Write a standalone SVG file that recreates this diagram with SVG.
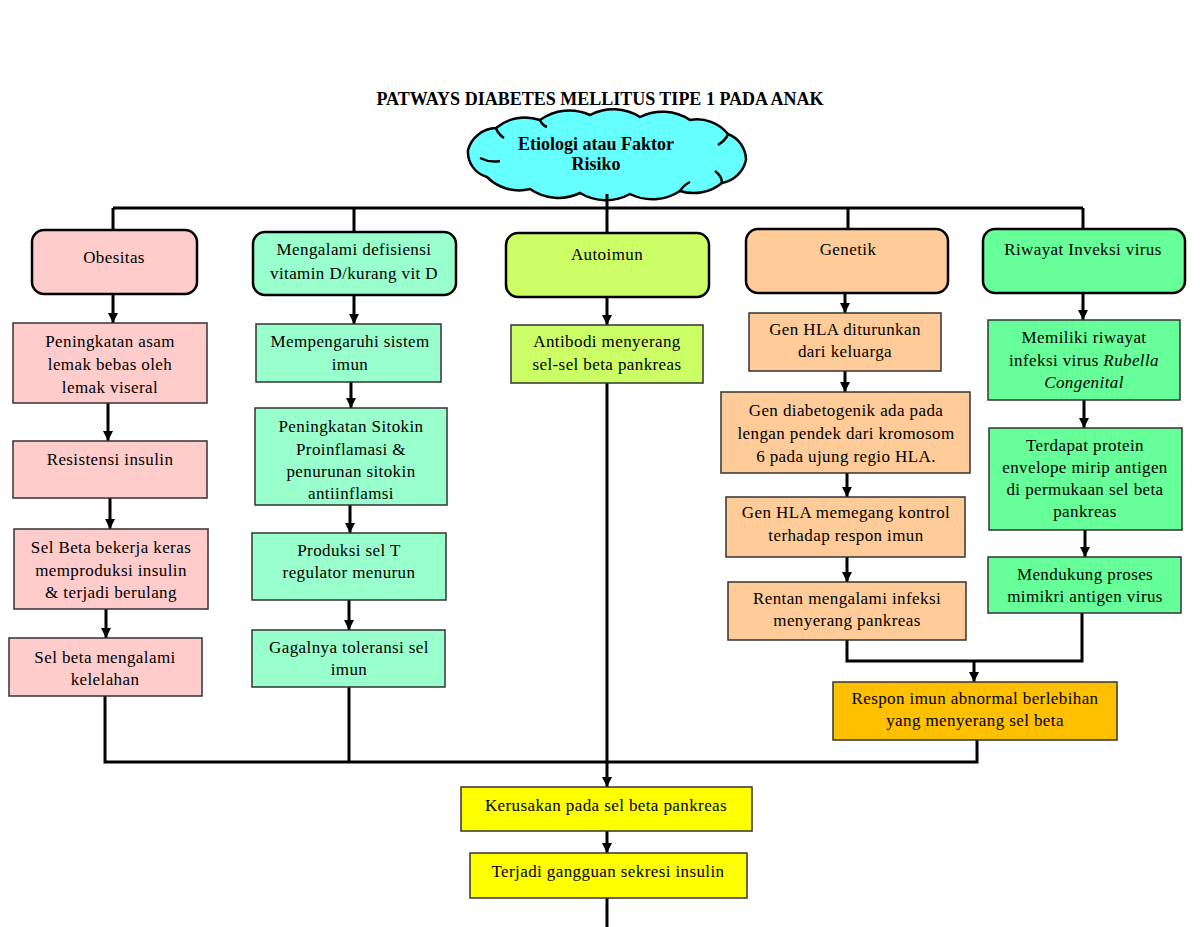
<svg xmlns="http://www.w3.org/2000/svg" width="1200" height="927" viewBox="0 0 1200 927">
<style>
text{font-family:"Liberation Serif","Times New Roman",serif;font-size:17px;letter-spacing:0.4px;fill:#000;text-anchor:middle}
.t{font-weight:bold;font-size:18px;letter-spacing:0}
.rb{stroke:#000;stroke-width:2.5}
.bx{stroke:#333;stroke-width:1.5}
.ln{fill:none;stroke:#000;stroke-width:3}
.pink{fill:#FFCCCC}.mint{fill:#99FFCC}.lime{fill:#CCFF66}.peach{fill:#FFCC99}.grn{fill:#66FF99}.org{fill:#FFC000}.yel{fill:#FFFF00}
</style>
<defs>
<marker id="ah" viewBox="0 0 10 10" refX="10" refY="5" markerWidth="10" markerHeight="10" markerUnits="userSpaceOnUse" orient="auto">
<path d="M0,0 L10,5 L0,10 Z" fill="#000"/>
</marker>
</defs>
<rect width="1200" height="927" fill="#fff"/>
<text class="t" x="600" y="105">PATWAYS DIABETES MELLITUS TIPE 1 PADA ANAK</text>

<g id="cloud">
<path d="M468,150 A30,30 0 0 1 496,128 A45,45 0 0 1 540,120 A50,50 0 0 1 590,115 A50,50 0 0 1 640,117 A50,50 0 0 1 690,120 A40,40 0 0 1 728,134 A28,28 0 0 1 746,160 A30,30 0 0 1 722,183 A45,45 0 0 1 680,191 A50,50 0 0 1 630,194 A50,50 0 0 1 580,193 A50,50 0 0 1 530,189 A45,45 0 0 1 487,177 A26,26 0 0 1 468,150 Z" fill="#66FFFF" stroke="#000" stroke-width="2.5"/>
<path d="M496,128 Q498,134 504,138 M480,158 Q490,163 500,161 M728,134 Q726,140 718,145 M722,183 Q722,176 715,171 M680,191 Q684,185 690,182 M540,120 Q542,125 547,127" fill="none" stroke="#000" stroke-width="2.5"/>
<text class="t" x="596" y="150">Etiologi atau Faktor</text>
<text class="t" x="596" y="170">Risiko</text>
</g>

<g id="connectors">
<path class="ln" d="M607,194 V208 M113,208 H1083"/>
<path class="ln" d="M113,208 V230 M354,208 V232 M607,208 V233 M848,208 V229 M1083,208 V229"/>
<path class="ln" d="M113,294 V323" marker-end="url(#ah)"/>
<path class="ln" d="M108,403 V441" marker-end="url(#ah)"/>
<path class="ln" d="M110,498 V529" marker-end="url(#ah)"/>
<path class="ln" d="M106,609 V638" marker-end="url(#ah)"/>
<path class="ln" d="M354,295 V324" marker-end="url(#ah)"/>
<path class="ln" d="M351,382 V408" marker-end="url(#ah)"/>
<path class="ln" d="M350,505 V533" marker-end="url(#ah)"/>
<path class="ln" d="M349,600 V630" marker-end="url(#ah)"/>
<path class="ln" d="M607,297 V325" marker-end="url(#ah)"/>
<path class="ln" d="M845,293 V313" marker-end="url(#ah)"/>
<path class="ln" d="M845,371 V392" marker-end="url(#ah)"/>
<path class="ln" d="M847,473 V497" marker-end="url(#ah)"/>
<path class="ln" d="M847,557 V582" marker-end="url(#ah)"/>
<path class="ln" d="M1083,293 V320" marker-end="url(#ah)"/>
<path class="ln" d="M1084,400 V428" marker-end="url(#ah)"/>
<path class="ln" d="M1085,530 V557" marker-end="url(#ah)"/>
<path class="ln" d="M847,640 V661 H1082 V613"/>
<path class="ln" d="M974,661 V682" marker-end="url(#ah)"/>
<path class="ln" d="M105,696 V762 H977 V740"/>
<path class="ln" d="M349,687 V762"/>
<path class="ln" d="M607,383 V787" marker-end="url(#ah)"/>
<path class="ln" d="M607,831 V853" marker-end="url(#ah)"/>
<path class="ln" d="M607,898 V927"/>
</g>

<g id="obesitas"><rect class="rb pink" x="32" y="230" width="165" height="64" rx="12"/><text x="114" y="263">Obesitas</text></g>
<g id="vitd"><rect class="rb mint" x="253" y="232" width="203" height="63" rx="12"/><text x="354" y="255">Mengalami defisiensi</text><text x="354" y="279">vitamin D/kurang vit D</text></g>
<g id="autoimun"><rect class="rb lime" x="506" y="233" width="203" height="64" rx="12"/><text x="607" y="260">Autoimun</text></g>
<g id="genetik"><rect class="rb peach" x="746" y="229" width="202" height="64" rx="12"/><text x="848" y="255">Genetik</text></g>
<g id="riwayat"><rect class="rb grn" x="983" y="229" width="202" height="64" rx="12"/><text x="1083" y="255">Riwayat Inveksi virus</text></g>

<g id="c1a"><rect class="bx pink" x="13" y="323" width="194" height="80"/><text x="110" y="347">Peningkatan asam</text><text x="110" y="370">lemak bebas oleh</text><text x="110" y="393">lemak viseral</text></g>
<g id="c1b"><rect class="bx pink" x="13" y="441" width="194" height="57"/><text x="110" y="465">Resistensi insulin</text></g>
<g id="c1c"><rect class="bx pink" x="14" y="529" width="194" height="80"/><text x="111" y="553">Sel Beta bekerja keras</text><text x="111" y="576">memproduksi insulin</text><text x="111" y="598">&amp; terjadi berulang</text></g>
<g id="c1d"><rect class="bx pink" x="9" y="638" width="193" height="58"/><text x="105" y="663">Sel beta mengalami</text><text x="105" y="685">kelelahan</text></g>

<g id="c2a"><rect class="bx mint" x="256" y="324" width="185" height="58"/><text x="350" y="347">Mempengaruhi sistem</text><text x="350" y="370">imun</text></g>
<g id="c2b"><rect class="bx mint" x="255" y="408" width="192" height="97"/><text x="351" y="432">Peningkatan Sitokin</text><text x="351" y="455">Proinflamasi &amp;</text><text x="351" y="477">penurunan sitokin</text><text x="351" y="499">antiinflamsi</text></g>
<g id="c2c"><rect class="bx mint" x="252" y="533" width="194" height="67"/><text x="349" y="556">Produksi sel T</text><text x="349" y="578">regulator menurun</text></g>
<g id="c2d"><rect class="bx mint" x="252" y="630" width="193" height="57"/><text x="349" y="653">Gagalnya toleransi sel</text><text x="349" y="675">imun</text></g>

<g id="c3a"><rect class="bx lime" x="511" y="325" width="192" height="58"/><text x="607" y="347">Antibodi menyerang</text><text x="607" y="370">sel-sel beta pankreas</text></g>

<g id="c4a"><rect class="bx peach" x="749" y="313" width="192" height="58"/><text x="845" y="335">Gen HLA diturunkan</text><text x="845" y="357">dari keluarga</text></g>
<g id="c4b"><rect class="bx peach" x="721" y="392" width="249" height="81"/><text x="846" y="416">Gen diabetogenik ada pada</text><text x="846" y="439">lengan pendek dari kromosom</text><text x="846" y="462">6 pada ujung regio HLA.</text></g>
<g id="c4c"><rect class="bx peach" x="726" y="497" width="239" height="60"/><text x="846" y="518">Gen HLA memegang kontrol</text><text x="846" y="541">terhadap respon imun</text></g>
<g id="c4d"><rect class="bx peach" x="728" y="582" width="238" height="58"/><text x="847" y="604">Rentan mengalami infeksi</text><text x="847" y="626">menyerang pankreas</text></g>

<g id="c5a"><rect class="bx grn" x="988" y="320" width="192" height="80"/><text x="1084" y="343">Memiliki riwayat</text><text x="1084" y="366">infeksi virus <tspan font-style="italic">Rubella</tspan></text><text x="1084" y="388" font-style="italic">Congenital</text></g>
<g id="c5b"><rect class="bx grn" x="989" y="428" width="193" height="102"/><text x="1085" y="451">Terdapat protein</text><text x="1085" y="473">envelope mirip antigen</text><text x="1085" y="495">di permukaan sel beta</text><text x="1085" y="517">pankreas</text></g>
<g id="c5c"><rect class="bx grn" x="988" y="557" width="193" height="56"/><text x="1085" y="580">Mendukung proses</text><text x="1085" y="602">mimikri antigen virus</text></g>

<g id="respon"><rect class="bx org" x="833" y="682" width="284" height="58"/><text x="975" y="704">Respon imun abnormal berlebihan</text><text x="975" y="726">yang menyerang sel beta</text></g>
<g id="kerusakan"><rect class="bx yel" x="461" y="787" width="291" height="44"/><text x="606" y="811">Kerusakan pada sel beta pankreas</text></g>
<g id="gangguan"><rect class="bx yel" x="470" y="853" width="277" height="45"/><text x="608" y="877">Terjadi gangguan sekresi insulin</text></g>
</svg>
